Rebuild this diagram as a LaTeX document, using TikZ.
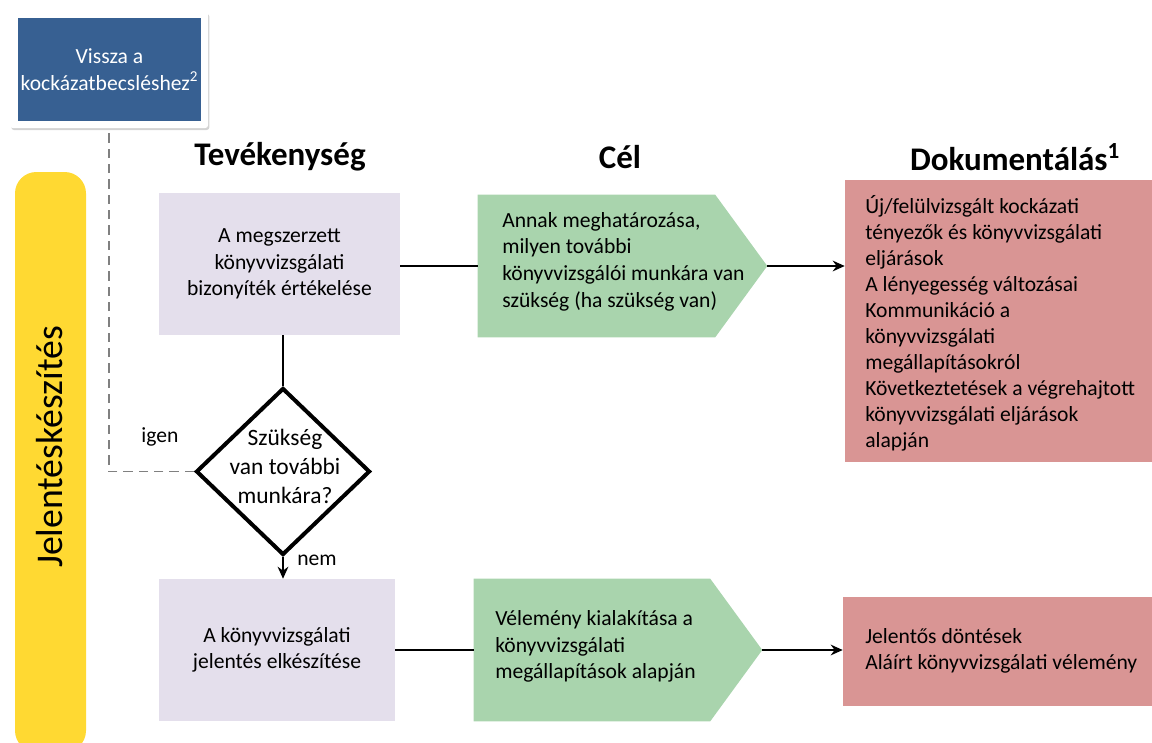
\documentclass[tikz,border=0pt]{standalone}
\usepackage{fontspec}
\setmainfont{Carlito}
\usetikzlibrary{arrows.meta,shapes.geometric,shadows,calc}
\definecolor{cardblue}{HTML}{376092}
\definecolor{lav}{HTML}{E4DFEC}
\definecolor{mint}{HTML}{A9D4AD}
\definecolor{rose}{HTML}{D99594}
\definecolor{sun}{HTML}{FFD932}
\definecolor{dashgray}{HTML}{808080}
\newcommand\txtbody{\fontsize{16.2pt}{20pt}\selectfont}
\newcommand\txtlist{\fontsize{16.2pt}{19.5pt}\selectfont}
\newcommand\txthead{\fontsize{24.75pt}{30pt}\selectfont\bfseries}
\begin{document}
\begin{tikzpicture}[x=0.75pt,y=-0.75pt,
  stepbox/.style={fill=lav, inner sep=0pt, minimum height=106.5pt},
  goalbody/.style={fill=mint, inner sep=0pt, minimum height=106.5pt},
  docbox/.style={fill=rose, inner sep=0pt},
  plain/.style={inner sep=0pt, font=\txtbody},
  head/.style={inner sep=0pt, font=\txthead},
  conn/.style={line width=1.5pt},
  arr/.style={line width=1.5pt, -{Stealth[length=9pt,width=8pt]}},
  back/.style={dashgray, line width=1.2pt, dash pattern=on 7pt off 4.5pt}]
\useasboundingbox (0,0) rectangle (1152,742);

% phase bar on the left
\fill[sun, rounded corners=16pt] (15,172) rectangle (86,752);
\node[rotate=90, inner sep=0pt, font=\fontsize{28.3pt}{34pt}\selectfont] (phase) at (50,447) {Jelentéskészítés};

% return card
\node[fill=white, rounded corners=2pt, minimum width=148.5pt, minimum height=87pt,
      drop shadow={opacity=0.35, shadow xshift=1pt, shadow yshift=-1.5pt}] (card) at (109,70) {};
\node[fill=cardblue, minimum width=137.25pt, minimum height=77.25pt, inner sep=0pt,
      text=white, align=center, font=\txtbody] (back) at (109.5,69.5)
      {Vissza a\\kockázatbecsléshez\textsuperscript{2}};

% column headings
\node[head] (hact) at (280,157) {Tevékenység};
\node[head] (hgoal) at (620,157) {Cél};
\node[head] (hdoc) at (1015,157) {Dokumentálás\textsuperscript{1}};

% activity boxes
\node[stepbox, minimum width=180.75pt, align=center, font=\txtbody] (act1) at (279.5,264)
  {A megszerzett\\könyvvizsgálati\\bizonyíték értékelése};
\node[stepbox, minimum width=177pt, align=center, font=\txtbody] (act2) at (277,650)
  {A könyvvizsgálati\\jelentés elkészítése};

% goal arrows (pentagons)
\node[goalbody, minimum width=177.75pt] (g1) at (596.5,266) {};
\coordinate (g1tip) at ($(g1.east)+(52,0)$);
\fill[mint] (g1.north west) -- (g1.north east) -- (g1tip) -- (g1.south east) -- (g1.south west) -- cycle;
\node[plain, anchor=west, align=left] (g1txt) at (502,261.5)
  {Annak meghatározása,\\milyen további\\könyvvizsgálói munkára van\\szükség (ha szükség van)};

\node[goalbody, minimum width=177pt] (g2) at (592,650) {};
\coordinate (g2tip) at ($(g2.east)+(52,0)$);
\fill[mint] (g2.north west) -- (g2.north east) -- (g2tip) -- (g2.south east) -- (g2.south west) -- cycle;
\node[plain, anchor=west, align=left] (g2txt) at (495,646.5)
  {Vélemény kialakítása a\\könyvvizsgálati\\megállapítások alapján};

% documentation boxes
\node[docbox, minimum width=230.25pt, minimum height=211.5pt] (d1) at (998.5,321) {};
\node[plain, anchor=west, align=left, font=\txtlist] (d1txt) at (865,323)
  {Új/felülvizsgált kockázati\\tényezők és könyvvizsgálati\\eljárások\\A lényegesség változásai\\Kommunikáció a\\könyvvizsgálati\\megállapításokról\\Következtetések a végrehajtott\\könyvvizsgálati eljárások\\alapján};
\node[docbox, minimum width=231.75pt, minimum height=81.75pt] (d2) at (997.5,651.5) {};
\node[plain, anchor=west, align=left, font=\txtlist] (d2txt) at (865,650.5)
  {Jelentős döntések\\Aláírt könyvvizsgálati vélemény};

% decision
\node[diamond, draw=black, line width=3pt, fill=white, inner sep=0pt,
      minimum width=130.5pt, minimum height=125.25pt] (dec) at (283,471.5) {};
\node[plain, align=center, font=\fontsize{17.6pt}{21.75pt}\selectfont] (dectxt) at (285,466)
  {Szükség\\van további\\munkára?};
\node[plain] (yes) at (160,437) {igen};
\node[plain] (no) at (317,560) {nem};

% connectors
\draw[conn] (act1.east |- g1.west) -- (g1.west);
\draw[arr] (g1tip) -- (g1tip -| d1.west);
\draw[conn] (act2.east |- g2.west) -- (g2.west);
\draw[arr] (g2tip) -- (g2tip -| d2.west);
\draw[conn] (act1.south -| dec.north) -- (dec.north);
\draw[arr] (dec.south) -- (dec.south |- act2.north);
\draw[back] (dec.west) -| (card.south);
\end{tikzpicture}
\end{document}
